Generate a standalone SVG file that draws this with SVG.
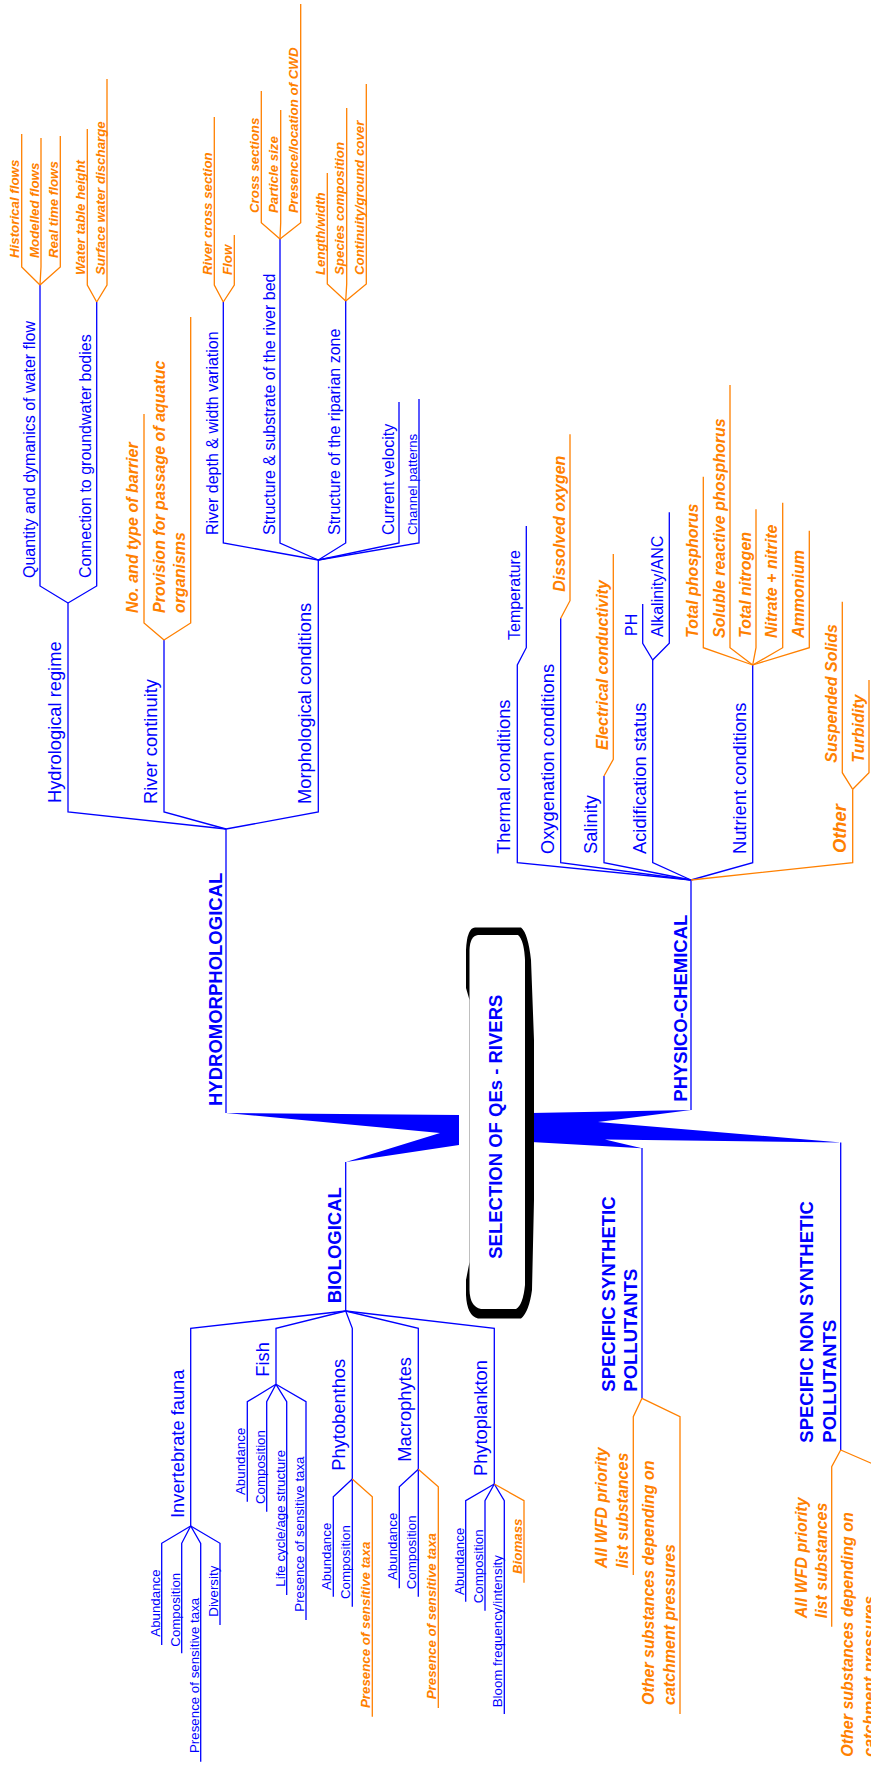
<svg xmlns="http://www.w3.org/2000/svg" width="871" height="1771" viewBox="0 0 871 1771">
<style>
text{font-family:"Liberation Sans",Arial,sans-serif}
.L{font-size:18.5px;font-weight:bold;fill:#0000ff}
.M{font-size:18.3px;fill:#0000ff}
.S{font-size:16px;fill:#0000ff}
.X{font-size:13.3px;fill:#0000ff}
.O{font-size:16px;font-weight:bold;font-style:italic;fill:#ff8000}
.P{font-size:13.3px;font-weight:bold;font-style:italic;fill:#ff8000}
.Q{font-size:18.3px;font-weight:bold;font-style:italic;fill:#ff8000}
.b{fill:none;stroke:#0000ff;stroke-width:1.3}
.o{fill:none;stroke:#ff8000;stroke-width:1.3}
</style>
<rect width="871" height="1771" fill="#ffffff"/>
<g id="connectors">
<polygon points="226,1113 459,1115 459,1145 346,1162 440,1133" fill="#0000ff"/>
<polygon points="531,1113 691,1110 598,1122 841,1142.5 605,1139.5 642,1148.3 531,1142" fill="#0000ff"/>
<polyline class="b" points="226,1113 226,829"/>
<polyline class="b" points="226,829 68,812 68,603"/>
<polyline class="b" points="226,829 164,812 164,640"/>
<polyline class="b" points="226,829 318.3,812 318.3,560"/>
<polyline class="b" points="68,603 40,586 40,285"/>
<polyline class="b" points="68,603 96.7,586 96.7,302"/>
<polyline class="b" points="318.3,560 223.3,543 223.3,302"/>
<polyline class="b" points="318.3,560 280,543 280,239"/>
<polyline class="b" points="318.3,560 345.7,543 345.7,301"/>
<polyline class="b" points="318.3,560 399,543 399,402"/>
<polyline class="b" points="318.3,560 419,543 419,399"/>
<polyline class="o" points="40,285 21.7,267 21.7,134"/>
<polyline class="o" points="40,285 41,267 41,138"/>
<polyline class="o" points="40,285 60.3,267 60.3,136"/>
<polyline class="o" points="96.7,302 87.3,285 87.3,129"/>
<polyline class="o" points="96.7,302 107,285 107,79"/>
<polyline class="o" points="164,640 144,623 144,414"/>
<polyline class="o" points="164,640 190.7,623 190.7,317"/>
<polyline class="o" points="223.3,302 214.3,285 214.3,117"/>
<polyline class="o" points="223.3,302 234.3,285 234.3,235"/>
<polyline class="o" points="280,239 261.3,222.7 261.3,91"/>
<polyline class="o" points="280,239 280.7,222.7 280.7,110"/>
<polyline class="o" points="280,239 300.7,222.7 300.7,4"/>
<polyline class="o" points="345.7,301 327.3,284 327.3,173"/>
<polyline class="o" points="345.7,301 346.7,284 346.7,108"/>
<polyline class="o" points="345.7,301 366.3,284 366.3,84"/>
<polyline class="b" points="691,1110 691,880"/>
<polyline class="b" points="691,880 517.3,862.7 517.3,665 526.3,647.7 526.3,526"/>
<polyline class="b" points="691,880 560.7,862.7 560.7,618.3"/>
<polyline class="b" points="691,880 604,862.7 604,776"/>
<polyline class="b" points="691,880 652.7,862.7 652.7,660"/>
<polyline class="b" points="652.7,660 642.7,643.3 642.7,604"/>
<polyline class="b" points="652.7,660 669.3,643.3 669.3,512.3"/>
<polyline class="b" points="691,880 752.7,862.7 752.7,665"/>
<polyline class="o" points="560.7,618.3 570,600.7 570,434.3"/>
<polyline class="o" points="604,776 613.3,759.3 613.3,554"/>
<polyline class="o" points="752.7,665 703.3,647.7 703.3,476.7"/>
<polyline class="o" points="752.7,665 730,647.7 730,385"/>
<polyline class="o" points="752.7,665 756,647.7 756,509.3"/>
<polyline class="o" points="752.7,665 782.7,647.7 782.7,502.7"/>
<polyline class="o" points="752.7,665 809.3,647.7 809.3,530.7"/>
<polyline class="o" points="691,880 852.7,862.7 852.7,789.3"/>
<polyline class="o" points="852.7,789.3 842.3,772.7 842.3,601.7"/>
<polyline class="o" points="852.7,789.3 869,772.7 869,680"/>
<polyline class="b" points="345.7,1162 345.7,1311"/>
<polyline class="b" points="345.7,1311 190.7,1328.3 190.7,1526"/>
<polyline class="b" points="345.7,1311 276,1328.3 276,1384.3"/>
<polyline class="b" points="345.7,1311 352.3,1328.3 352.3,1479"/>
<polyline class="b" points="345.7,1311 418.3,1328.3 418.3,1469.3"/>
<polyline class="b" points="345.7,1311 494.3,1328.3 494.3,1484"/>
<polyline class="b" points="190.7,1526 161.7,1543.3 161.7,1645"/>
<polyline class="b" points="190.7,1526 181.7,1543.3 181.7,1653.3"/>
<polyline class="b" points="190.7,1526 200.7,1543.3 200.7,1761.7"/>
<polyline class="b" points="190.7,1526 220,1543.3 220,1625"/>
<polyline class="b" points="276,1384.3 247.3,1401.7 247.3,1501.7"/>
<polyline class="b" points="276,1384.3 266.7,1401.7 266.7,1511.7"/>
<polyline class="b" points="276,1384.3 286.7,1401.7 286.7,1595"/>
<polyline class="b" points="276,1384.3 306,1401.7 306,1620"/>
<polyline class="b" points="352.3,1479 333.3,1496.7 333.3,1596.7"/>
<polyline class="b" points="352.3,1479 352.3,1606.7"/>
<polyline class="b" points="418.3,1469.3 399.3,1486.7 399.3,1588.3"/>
<polyline class="b" points="418.3,1469.3 418.3,1596.7"/>
<polyline class="b" points="494.3,1484 465.7,1500.7 465.7,1601.7"/>
<polyline class="b" points="494.3,1484 485,1500.7 485,1610.7"/>
<polyline class="b" points="494.3,1484 504.3,1500.7 504.3,1714"/>
<polyline class="o" points="352.3,1479 372.3,1496.7 372.3,1716.7"/>
<polyline class="o" points="418.3,1469.3 438.3,1486.7 438.3,1708"/>
<polyline class="o" points="494.3,1484 524,1500.7 524,1582.7"/>
<polyline class="b" points="642,1148 642,1398.3"/>
<polyline class="o" points="642,1398.3 633.3,1416.7 633.3,1575"/>
<polyline class="o" points="642,1398.3 680,1416.7 680,1714"/>
<polyline class="b" points="840.7,1142.5 840.7,1450"/>
<polyline class="o" points="840.7,1450 831.7,1466.7 831.7,1626.7"/>
<polyline class="o" points="840.7,1450 880,1467 880,1771"/>
</g>
<g id="center">
<path d="M475,927.5 L521,927.5 Q528,933 531,960 L534,1040 L534,1200 L532,1290 Q529,1312 521,1318.5 L478,1318.5 Q467,1316 466,1295 L466,1280 L469.5,1262 L469.5,1000 L466,988 L466,950 Q467,928 475,927.5 Z" fill="#000000"/>
<path d="M478,935 L518,935 Q524,940 525,960 L525,1285 Q523,1305 516,1309 L481,1309 Q470,1307 469.5,1290 L469.5,950 Q470,936 478,935 Z" fill="#ffffff"/>
<text class="L" text-anchor="middle" transform="translate(502,1126.7) rotate(-90)">SELECTION OF QEs - RIVERS</text>
</g>
<g id="hydromorphological">
<text class="L" transform="translate(221.5,1106) rotate(-90)">HYDROMORPHOLOGICAL</text>
</g>
<g id="hydrological-regime">
<text class="M" transform="translate(61,803) rotate(-90)">Hydrological regime</text>
</g>
<g id="quantity-flow">
<text class="S" transform="translate(34.5,578) rotate(-90)">Quantity and dymanics of water flow</text>
<text class="P" transform="translate(19.2,258) rotate(-90)">Historical flows</text>
<text class="P" transform="translate(38.5,258) rotate(-90)">Modelled flows</text>
<text class="P" transform="translate(57.8,258) rotate(-90)">Real time flows</text>
</g>
<g id="groundwater">
<text class="S" transform="translate(91.2,578) rotate(-90)">Connection to groundwater bodies</text>
<text class="P" transform="translate(84.8,275) rotate(-90)">Water table height</text>
<text class="P" transform="translate(104.5,275) rotate(-90)">Surface water discharge</text>
</g>
<g id="river-continuity">
<text class="M" transform="translate(156.7,804) rotate(-90)">River continuity</text>
<text class="O" transform="translate(138.3,613) rotate(-90)">No. and type of barrier</text>
<text class="O" transform="translate(165,613) rotate(-90)">Provision for passage of aquatuc<tspan x="0" dy="19.5">organisms</tspan></text>
</g>
<g id="morphological">
<text class="M" transform="translate(311.3,804) rotate(-90)">Morphological conditions</text>
</g>
<g id="river-depth">
<text class="S" transform="translate(217.8,535) rotate(-90)">River depth &amp; width variation</text>
<text class="P" transform="translate(211.8,275) rotate(-90)">River cross section</text>
<text class="P" transform="translate(231.8,275) rotate(-90)">Flow</text>
</g>
<g id="river-bed">
<text class="S" transform="translate(274.5,535) rotate(-90)">Structure &amp; substrate of the river bed</text>
<text class="P" transform="translate(258.8,213) rotate(-90)">Cross sections</text>
<text class="P" transform="translate(278.2,213) rotate(-90)">Particle size</text>
<text class="P" transform="translate(298.2,213) rotate(-90)">Presence/location of CWD</text>
</g>
<g id="riparian">
<text class="S" transform="translate(340.2,535) rotate(-90)">Structure of the riparian zone</text>
<text class="P" transform="translate(324.8,275) rotate(-90)">Length/width</text>
<text class="P" transform="translate(344.2,275) rotate(-90)">Species composition</text>
<text class="P" transform="translate(363.8,275) rotate(-90)">Continuity/ground cover</text>
</g>
<g id="current-velocity">
<text class="S" transform="translate(393.5,535) rotate(-90)">Current velocity</text>
</g>
<g id="channel-patterns">
<text class="X" transform="translate(416.5,535) rotate(-90)">Channel patterns</text>
</g>
<g id="physico-chemical">
<text class="L" transform="translate(686.5,1101.7) rotate(-90)">PHYSICO-CHEMICAL</text>
</g>
<g id="thermal">
<text class="M" transform="translate(510.3,854) rotate(-90)">Thermal conditions</text>
<text class="S" transform="translate(520.3,640) rotate(-90)">Temperature</text>
</g>
<g id="oxygenation">
<text class="M" transform="translate(553.7,854) rotate(-90)">Oxygenation conditions</text>
<text class="O" transform="translate(564.5,591.7) rotate(-90)">Dissolved oxygen</text>
</g>
<g id="salinity">
<text class="M" transform="translate(597,854) rotate(-90)">Salinity</text>
<text class="O" transform="translate(607.8,750) rotate(-90)">Electrical conductivity</text>
</g>
<g id="acidification">
<text class="M" transform="translate(645.7,854) rotate(-90)">Acidification status</text>
<text class="S" transform="translate(636.7,636) rotate(-90)">PH</text>
<text class="S" transform="translate(663.3,637) rotate(-90)">Alkalinity/ANC</text>
</g>
<g id="nutrient">
<text class="M" transform="translate(745.7,854) rotate(-90)">Nutrient conditions</text>
<text class="O" transform="translate(697.8,638) rotate(-90)">Total phosphorus</text>
<text class="O" transform="translate(724.5,638) rotate(-90)">Soluble reactive phosphorus</text>
<text class="O" transform="translate(750.5,638) rotate(-90)">Total nitrogen</text>
<text class="O" transform="translate(777.2,638) rotate(-90)">Nitrate + nitrite</text>
<text class="O" transform="translate(803.8,638) rotate(-90)">Ammonium</text>
</g>
<g id="other">
<text class="Q" transform="translate(845.7,853) rotate(-90)">Other</text>
<text class="O" transform="translate(836.8,762.7) rotate(-90)">Suspended Solids</text>
<text class="O" transform="translate(863.5,762.7) rotate(-90)">Turbidity</text>
</g>
<g id="biological">
<text class="L" transform="translate(341,1303.3) rotate(-90)">BIOLOGICAL</text>
</g>
<g id="invertebrate">
<text class="M" transform="translate(183.7,1518) rotate(-90)">Invertebrate fauna</text>
<text class="X" transform="translate(159.5,1636.7) rotate(-90)">Abundance</text>
<text class="X" transform="translate(179.5,1646.7) rotate(-90)">Composition</text>
<text class="X" transform="translate(198.5,1753) rotate(-90)">Presence of sensitive taxa</text>
<text class="X" transform="translate(217.8,1616.7) rotate(-90)">Diversity</text>
</g>
<g id="fish">
<text class="M" transform="translate(269,1376.7) rotate(-90)">Fish</text>
<text class="X" transform="translate(245.1,1495) rotate(-90)">Abundance</text>
<text class="X" transform="translate(264.5,1504) rotate(-90)">Composition</text>
<text class="X" transform="translate(284.5,1586.7) rotate(-90)">Life cycle/age structure</text>
<text class="X" transform="translate(303.8,1611.7) rotate(-90)">Presence of sensitive taxa</text>
</g>
<g id="phytobenthos">
<text class="M" transform="translate(345.3,1470.7) rotate(-90)">Phytobenthos</text>
<text class="X" transform="translate(331.1,1590) rotate(-90)">Abundance</text>
<text class="X" transform="translate(350.1,1599) rotate(-90)">Composition</text>
<text class="P" transform="translate(370,1708) rotate(-90)">Presence of sensitive taxa</text>
</g>
<g id="macrophytes">
<text class="M" transform="translate(411.3,1461.7) rotate(-90)">Macrophytes</text>
<text class="X" transform="translate(397.1,1580) rotate(-90)">Abundance</text>
<text class="X" transform="translate(416.1,1589.3) rotate(-90)">Composition</text>
<text class="P" transform="translate(436,1699.3) rotate(-90)">Presence of sensitive taxa</text>
</g>
<g id="phytoplankton">
<text class="M" transform="translate(487.3,1476) rotate(-90)">Phytoplankton</text>
<text class="X" transform="translate(463.5,1595) rotate(-90)">Abundance</text>
<text class="X" transform="translate(482.8,1603.3) rotate(-90)">Composition</text>
<text class="X" transform="translate(502.1,1707.3) rotate(-90)">Bloom frequency/intensity</text>
<text class="P" transform="translate(521.7,1574) rotate(-90)">Biomass</text>
</g>
<g id="synthetic">
<text class="L" transform="translate(615.3,1391.7) rotate(-90)">SPECIFIC SYNTHETIC<tspan x="0" dy="22">POLLUTANTS</tspan></text>
<text class="O" transform="translate(606.6,1568.3) rotate(-90)">All WFD priority<tspan x="0" dy="21.5">list substances</tspan></text>
<text class="O" transform="translate(653.5,1705) rotate(-90)">Other substances depending on<tspan x="0" dy="21.5">catchment pressures</tspan></text>
</g>
<g id="non-synthetic">
<text class="L" transform="translate(813,1442.7) rotate(-90)">SPECIFIC NON SYNTHETIC<tspan x="0" dy="22.5">POLLUTANTS</tspan></text>
<text class="O" transform="translate(806.5,1618.3) rotate(-90)">All WFD priority<tspan x="0" dy="20">list substances</tspan></text>
<text class="O" transform="translate(853.3,1756.7) rotate(-90)">Other substances depending on<tspan x="0" dy="21.5">catchment pressures</tspan></text>
</g>
</svg>
